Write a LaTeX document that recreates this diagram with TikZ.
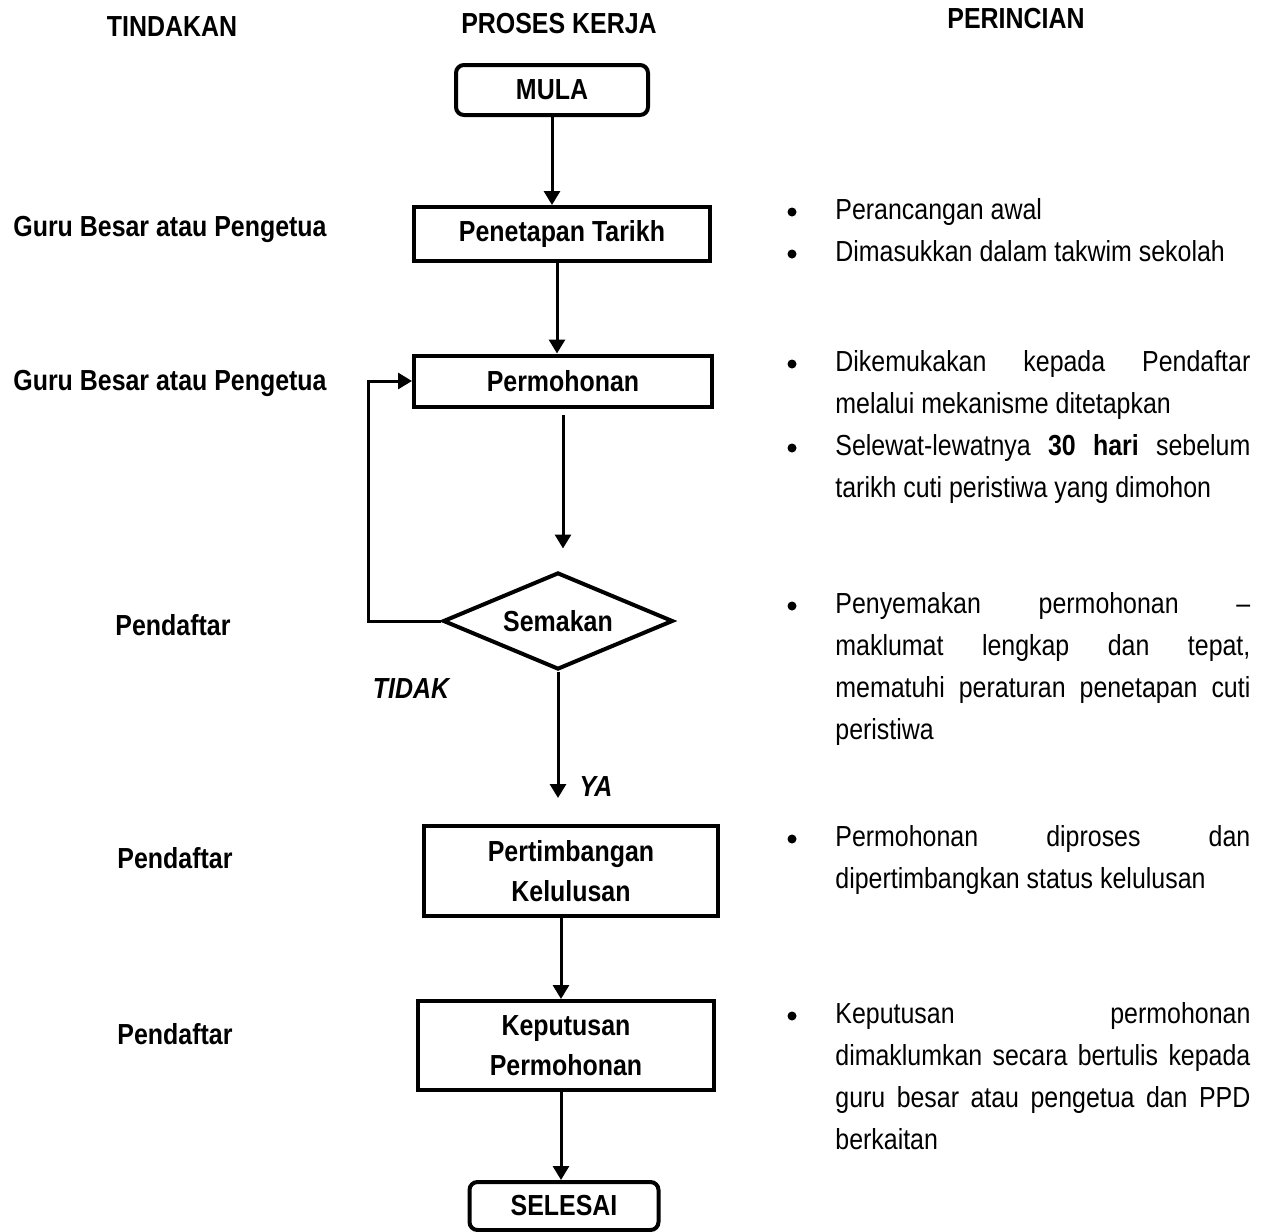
\documentclass[tikz,border=0pt]{standalone}
\usepackage{fontspec}
\setmainfont{Liberation Sans}[FakeStretch=0.86]
\usetikzlibrary{shapes.geometric,arrows.meta}
\hyphenpenalty=10000
\exhyphenpenalty=10000
\begin{document}
\begin{tikzpicture}[x=0.5pt,y=-0.5pt,
  every node/.style={font=\fontsize{14.5}{21}\selectfont},
  hdr/.style={font=\fontsize{14.5}{21}\selectfont\bfseries},
  lbl/.style={font=\fontsize{14.5}{21}\selectfont\bfseries\itshape},
  box/.style={draw, line width=2pt, font=\fontsize{14.5}{20}\selectfont\bfseries, align=center, inner sep=0pt},
  term/.style={box, rounded corners=4pt},
  dec/.style={draw, line width=2pt, shape=diamond, aspect=2.37, inner sep=0pt,
    minimum width=115pt, minimum height=48.5pt, font=\fontsize{14.5}{21}\selectfont\bfseries},
  arr/.style={line width=1.5pt, -{Triangle[length=7pt,width=8pt]}},
  dot/.style={circle, fill, inner sep=0pt, minimum size=4.5pt},
  desc/.style={anchor=north west, inner sep=0pt, text width=207.5pt, align=justify,
    font=\fontsize{14.5}{21}\selectfont},
]
\useasboundingbox (0,0) rectangle (1271,1232);

% headers
\node[hdr] (h1) at (172,27) {TINDAKAN};
\node[hdr] (h2) at (559,24) {PROSES KERJA};
\node[hdr] (h3) at (1016,19) {PERINCIAN};

% flow nodes
\node[term, minimum width=96pt, minimum height=25pt] (mula) at (552,90) {MULA};
\node[box, minimum width=148pt, minimum height=27pt] (pen) at (562,234) {Penetapan Tarikh};
\node[box, minimum width=149pt, minimum height=25.5pt] (per) at (563,381) {Permohonan};
\node[dec] (sem) at (558,621) {Semakan};
\node[box, minimum width=147pt, minimum height=45pt] (pert) at (571,871) {Pertimbangan\\Kelulusan};
\node[box, minimum width=148pt, minimum height=44.5pt] (kep) at (566,1045.5) {Keputusan\\Permohonan};
\node[term, minimum width=94.5pt, minimum height=24pt] (sel) at (564,1206) {SELESAI};

% labels
\node[lbl] (tidak) at (411,689) {TIDAK};
\node[lbl] (ya) at (596,787) {YA};

% connectors
\draw[arr] (mula.south) -- (mula.south |- pen.north);
\draw[arr] ([xshift=-2.5pt]pen.south) -- ([xshift=-2.5pt]pen.south |- per.north);
\draw[arr, shorten <=3pt, shorten >=11pt] (per.south) -- (per.south |- sem.north);
\draw[arr] (sem.west) -- ++(-73,0) |- (per.west);
\draw[arr, shorten >=13pt] (sem.south) -- (sem.south |- pert.north);
\draw[arr] ([xshift=-5pt]pert.south) -- ([xshift=-5pt]pert.south |- kep.north);
\draw[arr] ([xshift=-2.5pt]kep.south) -- ([xshift=-2.5pt]kep.south |- sel.north);

% left column
\node[hdr] (a1) at (170,229) {Guru Besar atau Pengetua};
\node[hdr] (a2) at (170,383) {Guru Besar atau Pengetua};
\node[hdr] (a3) at (173,625) {Pendaftar};
\node[hdr] (a4) at (175,858) {Pendaftar};
\node[hdr] (a5) at (175,1034) {Pendaftar};

% right column
\node[dot] (d1) at (792,212) {};
\node[desc] (t1) at (835,198) {Perancangan awal};
\node[dot] (d2) at (792,254) {};
\node[desc] (t2) at (835,240) {Dimasukkan dalam takwim sekolah};
\node[dot] (d3) at (792,364) {};
\node[desc] (t3) at (835,350) {Dikemukakan kepada Pendaftar\linebreak melalui mekanisme ditetapkan};
\node[dot] (d4) at (792,448) {};
\node[desc] (t4) at (835,434) {Selewat-lewatnya \textbf{30 hari} sebelum\linebreak tarikh cuti peristiwa yang dimohon};
\node[dot] (d5) at (792,606) {};
\node[desc] (t5) at (835,592) {Penyemakan permohonan \textendash\linebreak maklumat lengkap dan tepat,\linebreak mematuhi peraturan penetapan cuti\linebreak peristiwa};
\node[dot] (d6) at (792,839) {};
\node[desc] (t6) at (835,825) {Permohonan diproses dan\linebreak dipertimbangkan status kelulusan};
\node[dot] (d7) at (792,1016) {};
\node[desc] (t7) at (835,1002) {Keputusan permohonan\linebreak dimaklumkan secara bertulis kepada\linebreak guru besar atau pengetua dan PPD\linebreak berkaitan};
\end{tikzpicture}
\end{document}
